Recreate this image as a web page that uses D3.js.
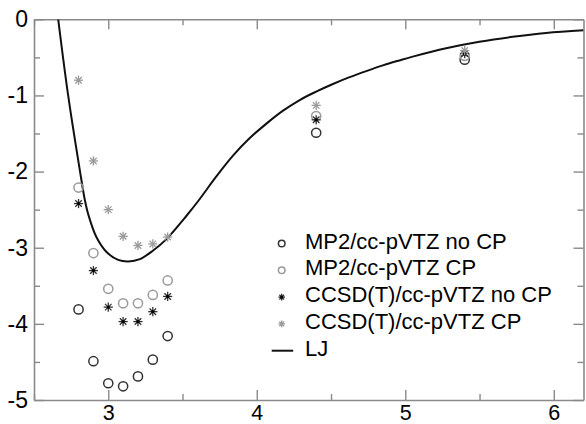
<!DOCTYPE html>
<html>
<head>
<meta charset="utf-8">
<script src="https://cdn.jsdelivr.net/npm/d3@7"></script>
<style>
  html, body { margin: 0; padding: 0; background: #fff; }
  svg { display: block; font-family: "Liberation Sans", Arial, Helvetica, sans-serif; }
</style>
</head>
<body>
<svg id="chart" width="586" height="424"></svg>
<script>
// Interaction energy vs. separation: ab initio points and a fitted LJ curve
const separations = [2.8, 2.9, 3.0, 3.1, 3.2, 3.3, 3.4, 4.4, 5.4];

const mp2NoCP   = [-3.81, -4.49, -4.78, -4.82, -4.69, -4.47, -4.16, -1.49, -0.53];
const mp2CP     = [-2.21, -3.07, -3.54, -3.73, -3.73, -3.62, -3.43, -1.27, -0.48];
const ccsdtNoCP = [-2.42, -3.30, -3.78, -3.97, -3.97, -3.84, -3.64, -1.32, -0.45];
const ccsdtCP   = [-0.80, -1.86, -2.50, -2.85, -2.97, -2.95, -2.86, -1.13, -0.41];

// LJ curve sampled along r
const ljR = [2.663, 2.73, 2.81, 2.843, 2.865, 2.92, 2.99, 3.067, 3.134, 3.213, 3.30, 3.39,
             3.527, 3.616, 3.729, 3.84, 3.953, 4.065, 4.177, 4.289, 4.40, 4.513, 4.625,
             4.737, 4.849, 4.96, 5.05, 5.275, 5.499, 5.723, 5.948, 6.2];
const ljE = [0, -1, -2, -2.38, -2.56, -2.86, -3.06, -3.16, -3.18, -3.15, -3.04, -2.89,
             -2.58, -2.36, -2.06, -1.79, -1.56, -1.37, -1.20, -1.06, -0.95, -0.85, -0.76,
             -0.68, -0.605, -0.54, -0.49, -0.38, -0.295, -0.23, -0.18, -0.145];

const xTicks = [3, 4, 5, 6];
const xMinorTicks = [2.5, 3.5, 4.5, 5.5];
const yTicks = [0, -1, -2, -3, -4, -5];
const yMinorTicks = [-0.5, -1.5, -2.5, -3.5, -4.5];

const legendLabels = ["MP2/cc-pVTZ no CP", "MP2/cc-pVTZ CP", "CCSD(T)/cc-pVTZ no CP", "CCSD(T)/cc-pVTZ CP", "LJ"];

const svg = d3.select("#chart");
const L = 34, R = 583.5, T = 19.3, B = 400;
const x = d3.scaleLinear().domain([2.5, 6.2]).range([L, R]);
const y = d3.scaleLinear().domain([-5, 0]).range([B, T]);

const frameColor = "#8a8a8a";
const plainNumber = d => String(d);   // ASCII hyphen for negatives

// clip for the curve
svg.append("defs").append("clipPath").attr("id", "plotClip")
  .append("rect").attr("x", L).attr("y", T).attr("width", R - L).attr("height", B - T);

// axes with inward ticks on all four sides
function styleAxis(g, size) {
  g.selectAll(".domain").attr("stroke", frameColor).attr("stroke-width", 1.6);
  g.selectAll(".tick line").attr("stroke", frameColor).attr("stroke-width", 1.4);
  g.selectAll("text").attr("fill", "#000").attr("font-size", size || 23)
    .attr("font-family", "Liberation Sans, Arial, sans-serif");
}

const axisBottomG = svg.append("g").attr("transform", `translate(0,${B})`)
  .call(d3.axisBottom(x).tickValues(xTicks).tickFormat(plainNumber).tickSizeInner(-10).tickSizeOuter(0));
axisBottomG.selectAll(".tick text").attr("dy", null).attr("y", 19.5);
styleAxis(axisBottomG, 21.5);
svg.append("g").attr("transform", `translate(0,${B})`)
  .call(d3.axisBottom(x).tickValues(xMinorTicks).tickFormat("").tickSizeInner(-6).tickSizeOuter(0))
  .call(g => { g.select(".domain").remove(); styleAxis(g); });

const axisTopG = svg.append("g").attr("transform", `translate(0,${T})`)
  .call(d3.axisTop(x).tickValues(xTicks).tickFormat("").tickSizeInner(-10).tickSizeOuter(0));
styleAxis(axisTopG);
svg.append("g").attr("transform", `translate(0,${T})`)
  .call(d3.axisTop(x).tickValues(xMinorTicks).tickFormat("").tickSizeInner(-6).tickSizeOuter(0))
  .call(g => { g.select(".domain").remove(); styleAxis(g); });

const axisLeftG = svg.append("g").attr("transform", `translate(${L},0)`)
  .call(d3.axisLeft(y).tickValues(yTicks).tickFormat(plainNumber).tickSizeInner(-10).tickSizeOuter(0).tickPadding(6));
styleAxis(axisLeftG, 23);
svg.append("g").attr("transform", `translate(${L},0)`)
  .call(d3.axisLeft(y).tickValues(yMinorTicks).tickFormat("").tickSizeInner(-6).tickSizeOuter(0))
  .call(g => { g.select(".domain").remove(); styleAxis(g); });

const axisRightG = svg.append("g").attr("transform", `translate(${R},0)`)
  .call(d3.axisRight(y).tickValues(yTicks).tickFormat("").tickSizeInner(-10).tickSizeOuter(0));
styleAxis(axisRightG);
svg.append("g").attr("transform", `translate(${R},0)`)
  .call(d3.axisRight(y).tickValues(yMinorTicks).tickFormat("").tickSizeInner(-6).tickSizeOuter(0))
  .call(g => { g.select(".domain").remove(); styleAxis(g); });

// LJ curve
const lj = ljR.map((r, i) => [r, ljE[i]]);
svg.append("path")
  .attr("clip-path", "url(#plotClip)")
  .attr("d", d3.line().x(d => x(d[0])).y(d => y(d[1])).curve(d3.curveCatmullRom.alpha(0.5))(lj))
  .attr("fill", "none").attr("stroke", "#111").attr("stroke-width", 2);

// marker helpers
function circleMarker(g, cx, cy, r, color) {
  g.append("circle").attr("cx", cx).attr("cy", cy).attr("r", r)
    .attr("fill", "none").attr("stroke", color).attr("stroke-width", 1.5);
}
function starMarker(g, cx, cy, r, color, core) {
  for (let k = 0; k < 4; k++) {
    const a = k * Math.PI / 4;
    g.append("line")
      .attr("x1", cx - r * Math.cos(a)).attr("y1", cy - r * Math.sin(a))
      .attr("x2", cx + r * Math.cos(a)).attr("y2", cy + r * Math.sin(a))
      .attr("stroke", color).attr("stroke-width", 1.3);
  }
  if (core) g.append("circle").attr("cx", cx).attr("cy", cy).attr("r", 1.6).attr("fill", core);
}

const series = [
  { values: mp2NoCP,   kind: "circle", color: "#333" },
  { values: mp2CP,     kind: "circle", color: "#9a9a9a" },
  { values: ccsdtNoCP, kind: "star",   color: "#333", core: "#000" },
  { values: ccsdtCP,   kind: "star",   color: "#9a9a9a", core: null }
];

const pts = svg.append("g");
series.forEach(s => {
  s.values.forEach((v, i) => {
    const cx = x(separations[i]), cy = y(v);
    if (s.kind === "circle") circleMarker(pts, cx, cy, 4.6, s.color);
    else starMarker(pts, cx, cy, 4.6, s.color, s.core);
  });
});

// legend
const lg = svg.append("g");
const lgX = 281.7, lgTextX = 305, lgY0 = 243.5, lgStep = 26.8;
legendLabels.forEach((label, i) => {
  const cy = lgY0 + i * lgStep;
  if (i < 4) {
    const s = series[i];
    if (s.kind === "circle") circleMarker(lg, lgX, cy, 3.3, s.color);
    else starMarker(lg, lgX, cy, 3.3, s.color, s.core);
  } else {
    lg.append("line").attr("x1", lgX - 10).attr("x2", lgX + 11.5).attr("y1", cy).attr("y2", cy)
      .attr("stroke", "#111").attr("stroke-width", 2);
  }
  lg.append("text").attr("x", lgTextX).attr("y", cy + 5).attr("font-size", 22)
    .attr("fill", "#000").text(label);
});
</script>
</body>
</html>
